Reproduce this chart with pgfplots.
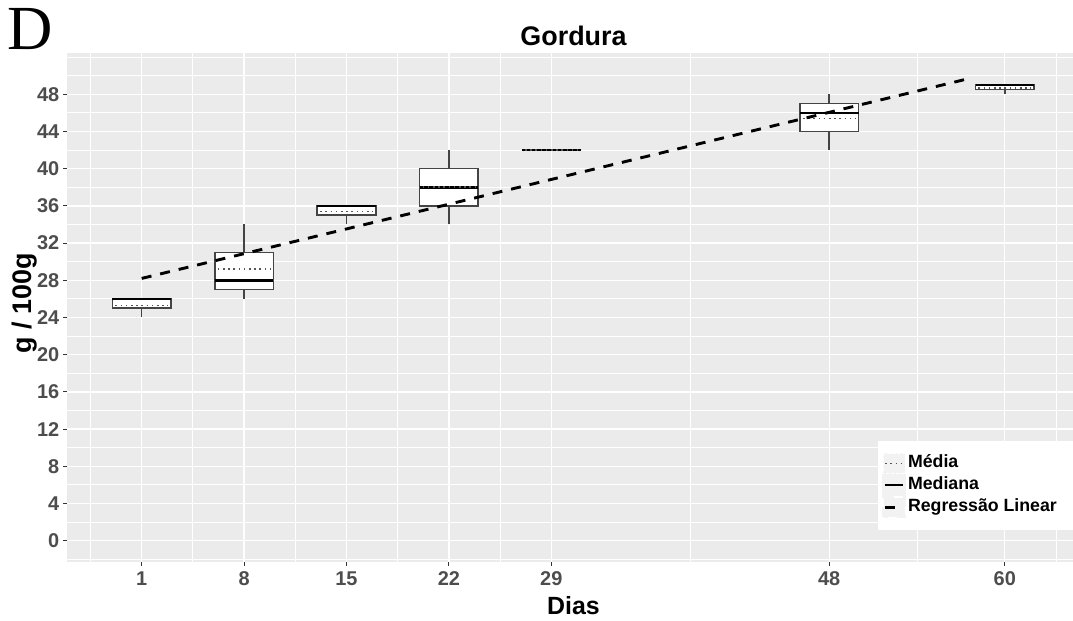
\documentclass[border=0pt]{standalone}
\usepackage{pgfplots}
\pgfplotsset{compat=1.18}
\usepgfplotslibrary{statistics}
\usepackage{fontspec}
\setmainfont{Liberation Sans}
\newfontfamily\panelfont{Liberation Serif}

\definecolor{panelbg}{HTML}{EBEBEB}
\definecolor{keybg}{HTML}{F2F2F2}
\definecolor{ticktext}{HTML}{4D4D4D}
\definecolor{tickmark}{HTML}{333333}
\definecolor{boxline}{HTML}{444444}
\definecolor{meanline}{HTML}{555555}

\tikzset{
  meanstyle/.style={draw=meanline, line width=1.6bp, dash pattern=on 1.6bp off 3.6bp},
  medstyle/.style={draw=black, line width=2.5bp},
  regstyle/.style={draw=black, line width=2.9bp, dash pattern=on 10bp off 9bp},
}

\begin{document}
\begin{tikzpicture}
\begin{axis}[
  at={(67bp,59.3bp)}, anchor=south west,
  scale only axis, width=1006bp, height=509bp,
  xmin=-4.106, xmax=64.66, ymin=-2.26, ymax=52.47,
  axis background/.style={fill=panelbg},
  axis line style={draw=none},
  xtick={1,8,15,22,29,48,60},
  ytick={0,4,...,48},
  minor xtick={-2.5,4.5,11.5,18.5,25.5,38.5,54,63.5},
  minor ytick={-2,2,6,...,50,52},
  grid=both,
  major grid style={draw=white, line width=1.4bp},
  minor grid style={draw=white, line width=0.9bp},
  tick pos=left, tick align=outside,
  major tick length=4bp, minor tick length=0pt,
  tick style={draw=tickmark, line width=1bp},
  /pgf/number format/assume math mode=true,
  ticklabel style={font=\bfseries\fontsize{20}{24}\selectfont, text=ticktext},
  xticklabel style={inner sep=2bp, yshift=-4bp},
  yticklabel style={inner sep=2bp, xshift=-1.5bp},
  boxplot/draw direction=y,
  boxplot/every median/.style={medstyle},
  legend cell align=left,
  legend image code/.code={
    \fill[keybg] (0bp,-9.5bp) rectangle (21bp,9.5bp);
    \draw[#1] (1.5bp,0bp) -- (19.5bp,0bp);
  },
  legend style={at={(axis cs:51.33,10.72)}, anchor=north west,
    fill=white, draw=none, inner xsep=4bp, inner ysep=12bp, row sep=0.5bp,
    font=\bfseries\fontsize{17.8}{21}\selectfont,
    nodes={inner sep=2bp, text height=12.5bp, text depth=4bp}},
]

% boxes: lower whisker, Q1, median, Q3, upper whisker per sampling day
\addplot[forget plot, draw=boxline, fill=white, line width=1.6bp,
  boxplot prepared={draw position=1, lower whisker=24, lower quartile=25,
    median=26, upper quartile=26, upper whisker=26, box extend=4, whisker extend=0}]
  coordinates {};
\addplot[forget plot, draw=boxline, fill=white, line width=1.6bp,
  boxplot prepared={draw position=8, lower whisker=26, lower quartile=27,
    median=28, upper quartile=31, upper whisker=34, box extend=4, whisker extend=0}]
  coordinates {};
\addplot[forget plot, draw=boxline, fill=white, line width=1.6bp,
  boxplot prepared={draw position=15, lower whisker=34, lower quartile=35,
    median=36, upper quartile=36, upper whisker=36, box extend=4, whisker extend=0}]
  coordinates {};
\addplot[forget plot, draw=boxline, fill=white, line width=1.6bp,
  boxplot prepared={draw position=22, lower whisker=34, lower quartile=36,
    median=38, upper quartile=40, upper whisker=42, box extend=4, whisker extend=0}]
  coordinates {};
\addplot[forget plot, draw=boxline, fill=white, line width=1.6bp,
  boxplot prepared={draw position=29, lower whisker=42, lower quartile=42,
    median=42, upper quartile=42, upper whisker=42, box extend=4, whisker extend=0}]
  coordinates {};
\addplot[forget plot, draw=boxline, fill=white, line width=1.6bp,
  boxplot prepared={draw position=48, lower whisker=42, lower quartile=44,
    median=46, upper quartile=47, upper whisker=48, box extend=4, whisker extend=0}]
  coordinates {};
\addplot[forget plot, draw=boxline, fill=white, line width=1.6bp,
  boxplot prepared={draw position=60, lower whisker=48, lower quartile=48.5,
    median=49, upper quartile=49, upper whisker=49, box extend=4, whisker extend=0}]
  coordinates {};

% means (dotted)
\addplot[forget plot, meanstyle] coordinates {(-0.8,25.3) (2.8,25.3)};
\addplot[forget plot, meanstyle] coordinates {(6.2,29.2) (9.8,29.2)};
\addplot[forget plot, meanstyle] coordinates {(13.2,35.4) (16.8,35.4)};
\addplot[forget plot, meanstyle] coordinates {(20.2,38) (23.8,38)};
\addplot[forget plot, meanstyle] coordinates {(27.2,42) (30.8,42)};
\addplot[forget plot, meanstyle] coordinates {(46.2,45.4) (49.8,45.4)};
\addplot[forget plot, meanstyle] coordinates {(58.2,48.7) (61.8,48.7)};

% linear regression
\addplot[forget plot, regstyle] coordinates {(1,28.2) (57.5,49.67)};

\addlegendimage{meanstyle}
\addlegendentry{Média}
\addlegendimage{medstyle}
\addlegendentry{Mediana}
\addlegendimage{regstyle}
\addlegendentry{Regressão Linear\rule{16bp}{0pt}}
\end{axis}

\node[anchor=base, font=\bfseries\fontsize{27}{32}\selectfont] at (573.5bp,575bp) {Gordura};
\node[anchor=base, font=\bfseries\fontsize{25}{30}\selectfont] at (573.5bp,7bp) {Dias};
\node[anchor=base, rotate=90, font=\bfseries\fontsize{27}{32}\selectfont] at (31bp,318bp) {g / 100g};
\node[anchor=base west, inner sep=0pt, font=\panelfont\fontsize{63}{70}\selectfont] at (7bp,571bp) {D};

\pgfresetboundingbox
\useasboundingbox (0,0) rectangle (1073bp,621bp);
\end{tikzpicture}
\end{document}
